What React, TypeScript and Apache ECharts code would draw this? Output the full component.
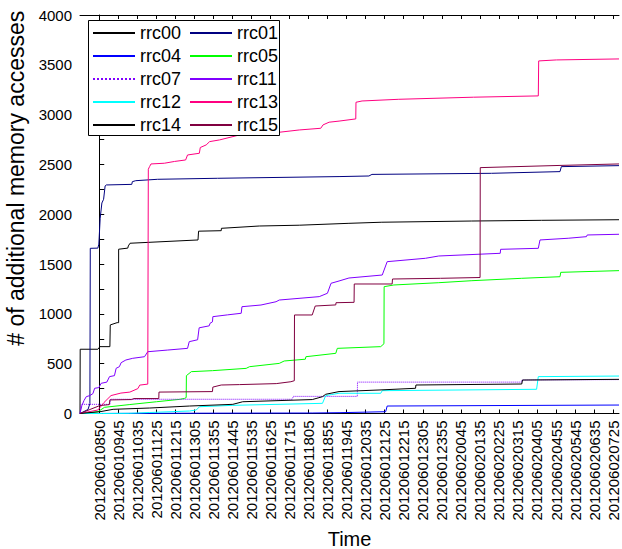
import React, { useEffect, useRef } from "react";
import * as echarts from "echarts";

// x values are measured in tick-label units: 0 = first label, 27 = last label
const TICK_LABELS = [
  "201206010850", "201206010945", "201206011035", "201206011125", "201206011215",
  "201206011305", "201206011355", "201206011445", "201206011535", "201206011625",
  "201206011715", "201206011805", "201206011855", "201206011945", "201206012035",
  "201206012125", "201206012215", "201206012305", "201206012355", "201206020045",
  "201206020135", "201206020225", "201206020315", "201206020405", "201206020455",
  "201206020545", "201206020635", "201206020725",
];

const RRC00 = [[-1.01,0],[-1.0,645],[-0.07,645],[0.04,671],[0.56,671],[0.58,889],[0.94,912],[1.02,912],[1.02,1649],[1.5,1660],[1.53,1682],[1.62,1709],[5.19,1742],[5.22,1830],[6.41,1835],[6.42,1859],[8.41,1882],[10.51,1890],[13.12,1909],[14.85,1920],[19.57,1932],[23.23,1939],[27.31,1945]];
const RRC01 = [[-1.01,0],[-0.59,40],[-0.49,100],[-0.47,1658],[-0.07,1660],[-0.02,1700],[0.05,1960],[0.14,2113],[0.23,2150],[0.31,2284],[0.37,2294],[1.71,2300],[1.74,2327],[1.92,2337],[3.07,2351],[6.21,2361],[12.6,2378],[14.17,2384],[14.33,2400],[20.61,2411],[24.21,2428],[24.28,2478],[27.31,2488]];
const RRC04 = [[-1.01,0],[5.27,3],[11.19,5],[12.6,8],[15.05,18],[15.13,75],[27.31,85]];
const RRC05 = [[-1.01,0],[-0.07,18],[0.28,62],[1.61,90],[3.01,118],[4.23,142],[4.49,152],[4.57,160],[4.58,380],[4.84,420],[5.95,430],[7.72,453],[7.9,470],[9.46,503],[9.72,527],[10.83,545],[10.86,570],[12.43,604],[12.51,654],[14.79,671],[14.96,700],[14.97,1273],[15.48,1290],[17.84,1313],[19.58,1333],[22.2,1357],[24.21,1373],[24.25,1417],[27.31,1434]];
const RRC07 = [[-1.01,0],[-0.95,92],[0.56,92],[0.59,143],[10.14,143],[10.2,172],[13.56,172],[13.57,315],[22.2,315],[22.21,336],[27.31,340]];
const RRC11 = [[-1.01,0],[-0.91,80],[-0.8,130],[-0.68,169],[-0.49,180],[-0.33,200],[-0.24,253],[-0.02,260],[0.1,303],[0.4,315],[0.54,370],[0.8,380],[0.89,454],[1.06,470],[1.15,510],[1.4,537],[1.76,554],[2.38,570],[2.55,620],[3.6,637],[4.64,654],[4.73,721],[5.17,740],[5.25,860],[5.78,880],[5.82,905],[5.95,920],[5.97,972],[6.74,990],[7.46,1006],[7.5,1072],[8.5,1089],[9.29,1122],[9.46,1139],[11.56,1173],[11.99,1207],[12.18,1307],[12.6,1330],[13.12,1360],[14.87,1390],[15.13,1524],[17.14,1558],[17.84,1581],[21.07,1608],[21.09,1648],[23.07,1658],[23.16,1742],[24.64,1759],[25.6,1775],[25.64,1792],[27.31,1799]];
const RRC12 = [[-1.01,0],[0.19,0],[1.61,2],[2.65,10],[4.75,25],[5.1,35],[5.27,68],[7.02,82],[11.73,102],[11.9,180],[12.2,190],[12.6,203],[14.79,203],[14.87,229],[22.98,243],[23.07,370],[27.31,376]];
const RRC13 = [[-1.01,0],[-0.75,10],[-0.07,35],[0.04,60],[0.25,110],[0.46,150],[0.62,180],[1.14,205],[1.61,215],[2.03,250],[2.13,285],[2.55,295],[2.58,2452],[2.65,2480],[2.72,2505],[3.42,2512],[3.96,2530],[4.54,2545],[4.64,2595],[5.26,2612],[5.31,2670],[5.62,2696],[5.8,2729],[6.32,2746],[7.37,2796],[8.41,2810],[9.46,2823],[10.51,2846],[11.64,2863],[11.76,2897],[12.08,2924],[12.6,2935],[13.48,2957],[13.49,3124],[13.81,3137],[15.74,3154],[19.67,3175],[23.07,3188],[23.09,3539],[24.02,3549],[27.31,3559]];
const RRC14 = [[-1.01,0],[0.04,18],[0.73,42],[2.65,55],[4.75,75],[7.02,92],[7.54,118],[11.2,140],[11.73,169],[11.9,193],[12.6,220],[14.7,236],[16.62,253],[16.64,286],[22.2,296],[22.24,336],[27.31,343]];
const RRC15 = [[-1.01,0],[-0.49,40],[0.04,80],[0.53,89],[0.56,136],[1.7,140],[1.82,150],[3.13,150],[3.14,215],[5.95,220],[5.97,265],[6.41,286],[7.37,290],[9.3,300],[10.07,319],[10.25,329],[10.26,989],[11.19,989],[11.35,1079],[12.43,1090],[12.44,1112],[13.39,1116],[13.4,1300],[15.39,1300],[15.41,1350],[17.93,1357],[20.01,1365],[20.02,2468],[24.21,2490],[24.23,2495],[27.31,2505]];

const SERIES_NAMES = ["rrc00", "rrc01", "rrc04", "rrc05", "rrc07", "rrc11", "rrc12", "rrc13", "rrc14", "rrc15"];
const SERIES_DATA = [RRC00, RRC01, RRC04, RRC05, RRC07, RRC11, RRC12, RRC13, RRC14, RRC15];
const SERIES_COLORS = ["#000000", "#000080", "#0000ff", "#00ff00", "#8000ff", "#8000ff", "#00ffff", "#ff0080", "#000000", "#800040"];
const SERIES_DASH = ["solid", "solid", "solid", "solid", "dotted", "solid", "solid", "solid", "solid", "solid"];

const LEGEND_COL1 = ["rrc00", "rrc04", "rrc07", "rrc12", "rrc14"];
const LEGEND_COL2 = ["rrc01", "rrc05", "rrc11", "rrc13", "rrc15"];

const FONT = "'Liberation Sans', Arial, sans-serif";
const X_MIN = -1.01;
const X_MAX = 27.31;

export default function App() {
  const ref = useRef<HTMLDivElement>(null);
  useEffect(() => {
    if (!ref.current) return;
    const chart = echarts.init(ref.current, undefined, { renderer: "svg", width: 622, height: 549 });
    const tickPos = TICK_LABELS.map((_, i) => i);
    const legendBase = {
      orient: "vertical",
      top: 24,
      itemWidth: 42,
      itemHeight: 14,
      itemGap: 5,
      padding: 0,
      selectedMode: false,
      itemStyle: { opacity: 0 },
      textStyle: { fontSize: 18, color: "#000", fontFamily: FONT },
    };
    chart.setOption({
      animation: false,
      backgroundColor: "#fff",
      textStyle: { fontFamily: FONT },
      grid: { left: 80, width: 539, top: 15, height: 398.5, containLabel: false, outerBoundsMode: "none" },
      legend: [
        { ...legendBase, left: 92, data: LEGEND_COL1 },
        { ...legendBase, left: 189, data: LEGEND_COL2 },
      ],
      graphic: [
        {
          type: "rect",
          z: 3,
          silent: true,
          shape: { x: 88.5, y: 20.5, width: 191, height: 115 },
          style: { fill: "#fff", stroke: "#000", lineWidth: 1 },
        },
      ],
      xAxis: [
        {
          type: "value",
          min: X_MIN,
          max: X_MAX,
          position: "bottom",
          axisLine: { show: true, onZero: false, lineStyle: { color: "#000", width: 1 } },
          axisTick: { show: true, inside: true, length: 4, customValues: tickPos, lineStyle: { color: "#000" } },
          axisLabel: {
            customValues: tickPos,
            formatter: (v: number) => TICK_LABELS[Math.round(v)] ?? "",
            rotate: 90,
            fontSize: 15,
            lineHeight: 12,
            color: "#000",
            margin: 7,
            fontFamily: FONT,
          },
          splitLine: { show: false },
          name: "Time",
          nameLocation: "middle",
          nameGap: 115,
          nameTextStyle: { fontSize: 20, color: "#000", fontFamily: FONT },
        },
        {
          type: "value",
          min: X_MIN,
          max: X_MAX,
          position: "top",
          axisLine: { show: true, onZero: false, lineStyle: { color: "#000", width: 1 } },
          axisTick: { show: true, inside: true, length: 4, customValues: tickPos, lineStyle: { color: "#000" } },
          axisLabel: { show: false },
          splitLine: { show: false },
        },
      ],
      yAxis: {
        type: "value",
        min: 0,
        max: 4000,
        interval: 500,
        axisLine: { show: true, lineStyle: { color: "#000", width: 1 } },
        axisTick: { show: true, inside: true, length: 5, lineStyle: { color: "#000" } },
        minorTick: { show: true, splitNumber: 2, length: 5, lineStyle: { color: "#000" } },
        axisLabel: { fontSize: 15, color: "#000", margin: 8, fontFamily: FONT, formatter: (v: number) => String(v) },
        splitLine: { show: false },
        name: "# of additional memory accesses",
        nameLocation: "middle",
        nameGap: 52,
        nameTextStyle: { fontSize: 23, color: "#000", fontFamily: FONT, padding: [0, 0, 0, 72] },
      },
      series: SERIES_NAMES.map((name, i) => ({
        name,
        type: "line",
        xAxisIndex: 0,
        data: SERIES_DATA[i],
        symbol: "none",
        showSymbol: false,
        color: SERIES_COLORS[i],
        lineStyle: { color: SERIES_COLORS[i], width: 1, type: SERIES_DASH[i] },
        emphasis: { disabled: true },
        z: 2,
      })),
    });
    return () => chart.dispose();
  }, []);
  return (
    <div
      ref={ref}
      style={{ position: "fixed", left: 0, top: 0, width: 622, height: 549, background: "#fff" }}
    />
  );
}
